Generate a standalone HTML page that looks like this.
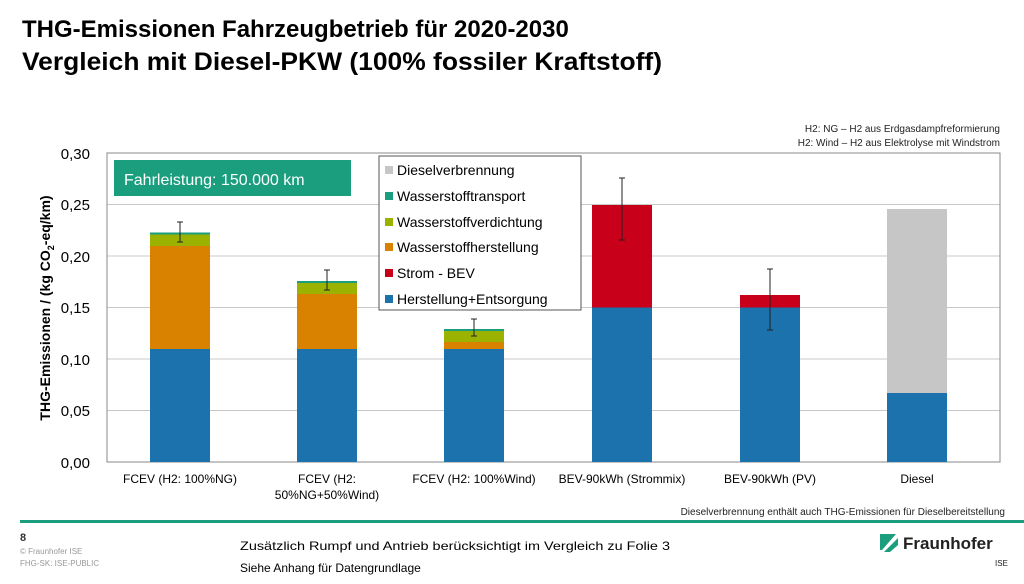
<!DOCTYPE html>
<html><head><meta charset="utf-8"><style>
body{margin:0;background:#fff;width:1024px;height:579px;overflow:hidden;font-family:"Liberation Sans","DejaVu Sans",sans-serif}
</style></head><body>
<svg width="1024" height="579" xmlns="http://www.w3.org/2000/svg" font-family="Liberation Sans, DejaVu Sans, sans-serif">
<text x="22" y="37" font-size="24" font-weight="bold" fill="#000">THG-Emissionen Fahrzeugbetrieb für 2020-2030</text>
<text x="22" y="70" font-size="25" font-weight="bold" fill="#000" textLength="640" lengthAdjust="spacingAndGlyphs">Vergleich mit Diesel-PKW (100% fossiler Kraftstoff)</text>
<text x="1000" y="132" font-size="10" text-anchor="end" fill="#222">H2: NG – H2 aus Erdgasdampfreformierung</text>
<text x="1000" y="146" font-size="10" text-anchor="end" fill="#222">H2: Wind – H2 aus Elektrolyse mit Windstrom</text>
<g stroke="#c8c8c8" stroke-width="1">
<line x1="107" x2="1000" y1="204.5" y2="204.5"/><line x1="107" x2="1000" y1="256" y2="256"/>
<line x1="107" x2="1000" y1="307.5" y2="307.5"/><line x1="107" x2="1000" y1="359" y2="359"/>
<line x1="107" x2="1000" y1="410.5" y2="410.5"/>
</g>
<rect x="107" y="153" width="893" height="309" fill="none" stroke="#888" stroke-width="1"/>
<g font-size="15" text-anchor="end" fill="#000">
<text x="90" y="159">0,30</text><text x="90" y="210">0,25</text><text x="90" y="262">0,20</text>
<text x="90" y="313">0,15</text><text x="90" y="365">0,10</text><text x="90" y="416">0,05</text><text x="90" y="468">0,00</text>
</g>
<text transform="translate(50,308) rotate(-90)" font-size="14" font-weight="bold" text-anchor="middle">THG-Emissionen / (kg CO<tspan font-size="9" dy="4">2</tspan><tspan dy="-4">-eq/km)</tspan></text>
<g>
<rect x="150" y="349" width="60" height="113" fill="#1b72ad"/>
<rect x="150" y="246" width="60" height="103" fill="#d98200"/>
<rect x="150" y="234.5" width="60" height="11.5" fill="#9bb300"/>
<rect x="150" y="232.5" width="60" height="2" fill="#1a9e7e"/>
<rect x="297" y="349" width="60" height="113" fill="#1b72ad"/>
<rect x="297" y="294" width="60" height="55" fill="#d98200"/>
<rect x="297" y="283" width="60" height="11" fill="#9bb300"/>
<rect x="297" y="281" width="60" height="2" fill="#1a9e7e"/>
<rect x="444" y="349" width="60" height="113" fill="#1b72ad"/>
<rect x="444" y="342" width="60" height="7" fill="#d98200"/>
<rect x="444" y="331" width="60" height="11" fill="#9bb300"/>
<rect x="444" y="329" width="60" height="2" fill="#1a9e7e"/>
<rect x="592" y="307.5" width="60" height="154.5" fill="#1b72ad"/>
<rect x="592" y="205" width="60" height="102.5" fill="#c8001a"/>
<rect x="740" y="307.5" width="60" height="154.5" fill="#1b72ad"/>
<rect x="740" y="295" width="60" height="12.5" fill="#c8001a"/>
<rect x="887" y="393" width="60" height="69" fill="#1b72ad"/>
<rect x="887" y="209" width="60" height="184" fill="#c6c6c6"/>
</g>
<g stroke="#222" stroke-width="1">
<line x1="180" x2="180" y1="222" y2="242"/><line x1="177" x2="183" y1="222" y2="222"/><line x1="177" x2="183" y1="242" y2="242"/>
<line x1="327" x2="327" y1="270" y2="290"/><line x1="324" x2="330" y1="270" y2="270"/><line x1="324" x2="330" y1="290" y2="290"/>
<line x1="474" x2="474" y1="319" y2="336"/><line x1="471" x2="477" y1="319" y2="319"/><line x1="471" x2="477" y1="336" y2="336"/>
<line x1="622" x2="622" y1="178" y2="240"/><line x1="619" x2="625" y1="178" y2="178"/><line x1="619" x2="625" y1="240" y2="240"/>
<line x1="770" x2="770" y1="269" y2="330"/><line x1="767" x2="773" y1="269" y2="269"/><line x1="767" x2="773" y1="330" y2="330"/>
</g>
<g font-size="12" text-anchor="middle" fill="#000">
<text x="180" y="483">FCEV (H2: 100%NG)</text>
<text x="327" y="483">FCEV (H2:</text><text x="327" y="499">50%NG+50%Wind)</text>
<text x="474" y="483">FCEV (H2: 100%Wind)</text>
<text x="622" y="483">BEV-90kWh (Strommix)</text>
<text x="770" y="483">BEV-90kWh (PV)</text>
<text x="917" y="483">Diesel</text>
</g>
<rect x="114" y="160" width="237" height="36" fill="#1a9e7e"/>
<text x="124" y="185" font-size="16" fill="#fff">Fahrleistung: 150.000 km</text>
<rect x="379" y="156" width="202" height="154" fill="#fff" stroke="#555" stroke-width="1"/>
<g font-size="14" fill="#000">
<rect x="385" y="166" width="8" height="8" fill="#c6c6c6"/><text x="397" y="175">Dieselverbrennung</text>
<rect x="385" y="192" width="8" height="8" fill="#1a9e7e"/><text x="397" y="201">Wasserstofftransport</text>
<rect x="385" y="218" width="8" height="8" fill="#9bb300"/><text x="397" y="227">Wasserstoffverdichtung</text>
<rect x="385" y="243" width="8" height="8" fill="#d98200"/><text x="397" y="252">Wasserstoffherstellung</text>
<rect x="385" y="269" width="8" height="8" fill="#c8001a"/><text x="397" y="278">Strom - BEV</text>
<rect x="385" y="295" width="8" height="8" fill="#1b72ad"/><text x="397" y="304">Herstellung+Entsorgung</text>
</g>
<text x="1005" y="515" font-size="10" text-anchor="end" fill="#222">Dieselverbrennung enthält auch THG-Emissionen für Dieselbereitstellung</text>
<rect x="20" y="520" width="1005" height="3" fill="#1a9e7e"/>
<text x="20" y="541" font-size="11" font-weight="bold" fill="#333">8</text>
<text x="20" y="554" font-size="8" fill="#999">© Fraunhofer ISE</text>
<text x="20" y="566" font-size="8" fill="#999">FHG-SK: ISE-PUBLIC</text>
<text x="240" y="550" font-size="12" fill="#000" textLength="430" lengthAdjust="spacingAndGlyphs">Zusätzlich Rumpf und Antrieb berücksichtigt im Vergleich zu Folie 3</text>
<text x="240" y="572" font-size="12" fill="#000">Siehe Anhang für Datengrundlage</text>
<g fill="#1a9e7e"><polygon points="880,534 896,534 882,550 880,550"/><polygon points="884,552 898,538 898,545 890,552"/><polygon points="880,538 890,538 880,548"/></g>
<text x="903" y="549" font-size="17" font-weight="bold" fill="#222">Fraunhofer</text>
<text x="995" y="566" font-size="8" fill="#222">ISE</text>
</svg>
</body></html>
